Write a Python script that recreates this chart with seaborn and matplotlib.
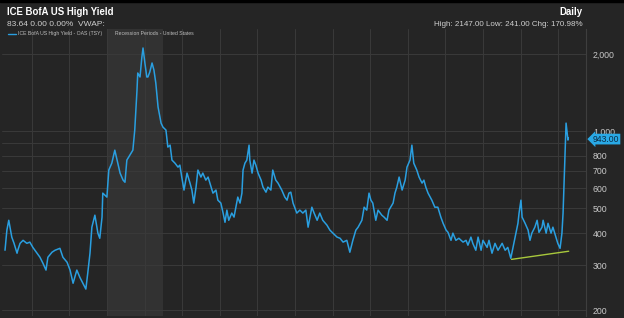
import numpy as np
import pandas as pd
import matplotlib
matplotlib.use("Agg")
import matplotlib.pyplot as plt
import seaborn as sns

# ---- data (decimal year, OAS in bp) ----
years = [2005.29, 2005.34, 2005.39, 2005.47, 2005.53, 2005.61, 2005.63, 2005.69, 2005.77, 2005.87,
         2005.95, 2006.03, 2006.14, 2006.22, 2006.30, 2006.38, 2006.43, 2006.54, 2006.62, 2006.75,
         2006.83, 2006.94, 2007.02, 2007.10, 2007.20, 2007.28, 2007.36, 2007.44, 2007.49, 2007.55,
         2007.60, 2007.68, 2007.76, 2007.81, 2007.87, 2007.89, 2008.00, 2008.05, 2008.13, 2008.21,
         2008.29, 2008.35, 2008.43, 2008.48, 2008.53, 2008.61, 2008.69, 2008.74, 2008.80, 2008.82,
         2008.88, 2008.93, 2008.96, 2009.01, 2009.06, 2009.09, 2009.14, 2009.20, 2009.25, 2009.30,
         2009.36, 2009.44, 2009.49, 2009.57, 2009.62, 2009.68, 2009.73, 2009.81, 2009.89, 2009.94,
         2009.99, 2010.05, 2010.13, 2010.21, 2010.26, 2010.31, 2010.37, 2010.42, 2010.50, 2010.55,
         2010.63, 2010.69, 2010.77, 2010.82, 2010.90, 2010.95, 2011.03, 2011.09, 2011.14, 2011.19,
         2011.24, 2011.32, 2011.38, 2011.43, 2011.48, 2011.54, 2011.59, 2011.62, 2011.67, 2011.72,
         2011.78, 2011.80, 2011.86, 2011.91, 2011.96, 2012.02, 2012.10, 2012.15, 2012.23, 2012.28,
         2012.36, 2012.41, 2012.49, 2012.55, 2012.65, 2012.73, 2012.79, 2012.84, 2012.89, 2012.95,
         2013.05, 2013.13, 2013.21, 2013.29, 2013.35, 2013.45, 2013.51, 2013.59, 2013.66, 2013.74,
         2013.85, 2013.93, 2014.01, 2014.12, 2014.20, 2014.28, 2014.38, 2014.46, 2014.54, 2014.62,
         2014.68, 2014.78, 2014.84, 2014.91, 2014.97, 2015.02, 2015.07, 2015.15, 2015.21, 2015.31,
         2015.37, 2015.45, 2015.50, 2015.61, 2015.66, 2015.71, 2015.77, 2015.85, 2015.93, 2015.98,
         2016.06, 2016.11, 2016.16, 2016.24, 2016.30, 2016.38, 2016.43, 2016.48, 2016.54, 2016.64,
         2016.72, 2016.80, 2016.88, 2016.94, 2017.02, 2017.07, 2017.15, 2017.20, 2017.28, 2017.36,
         2017.47, 2017.55, 2017.60, 2017.68, 2017.73, 2017.81, 2017.87, 2017.95, 2018.00, 2018.11,
         2018.16, 2018.24, 2018.32, 2018.40, 2018.51, 2018.59, 2018.66, 2018.74, 2018.80, 2018.88,
         2018.93, 2018.96, 2019.01, 2019.04, 2019.12, 2019.20, 2019.25, 2019.30, 2019.38, 2019.44,
         2019.49, 2019.57, 2019.60, 2019.68, 2019.73, 2019.81, 2019.86, 2019.94, 2019.99, 2020.05,
         2020.10, 2020.13, 2020.15, 2020.18, 2020.21, 2020.26, 2020.27]
oas = [343, 411, 449, 386, 365, 334, 343, 365, 375, 365,
       369, 352, 334, 322, 305, 287, 322, 337, 343, 349,
       322, 308, 287, 255, 287, 269, 255, 242, 279, 334,
       422, 470, 400, 382, 462, 573, 553, 705, 750, 843,
       750, 686, 644, 632, 771, 806, 843, 1010, 1447, 1686,
       1627, 1947, 2111, 1845, 1627, 1627, 1701, 1845, 1732, 1541,
       1242, 1075, 1037, 1010, 867, 882, 771, 750, 724, 737,
       662, 589, 686, 627, 589, 524, 605, 705, 662, 686,
       644, 662, 605, 573, 589, 538, 524, 479, 441, 492,
       449, 479, 462, 505, 553, 524, 573, 705, 750, 771,
       882, 771, 686, 771, 737, 686, 644, 605, 578, 605,
       589, 705, 644, 627, 589, 553, 538, 573, 578, 524,
       479, 492, 479, 492, 422, 505, 479, 449, 479, 449,
       430, 411, 400, 386, 382, 369, 375, 337, 375, 411,
       422, 449, 505, 492, 573, 538, 524, 449, 492, 470,
       462, 449, 492, 524, 573, 605, 662, 589, 644, 724,
       771, 882, 750, 705, 662, 627, 644, 605, 573, 538,
       505, 505, 462, 437, 411, 403, 375, 400, 375, 382,
       369, 375, 359, 386, 365, 343, 386, 343, 375, 352,
       375, 334, 365, 343, 365, 343, 352, 319, 352, 400,
       437, 479, 538, 462, 437, 411, 375, 400, 422, 449,
       403, 422, 449, 400, 437, 400, 422, 386, 365, 349,
       400, 479, 589, 792, 1075, 923, 943]
trend_years = [2018.76, 2020.28]
trend_vals = [316, 340]
recession = (2007.99, 2009.49)
ytick_vals = [2000, 1000, 900, 800, 700, 600, 500, 400, 300, 200]
ytick_labels = ["2,000", "1,000", "", "800", "700", "600", "500", "400", "300", "200"]
grid_years = list(range(2006, 2021))
last_value = 943.00

df = pd.DataFrame({"year": years, "oas": oas})

BG = "#252525"
GRID = "#3a3a3a"
LINE = "#2a9fe0"

sns.set_theme(style="dark")
plt.rcParams['font.family'] = ['Liberation Sans', 'DejaVu Sans']

fig = plt.figure(figsize=(6.24, 3.18), dpi=100, facecolor=BG)
ax = fig.add_axes([2 / 624, 2 / 318, 584 / 624, 287 / 318])
ax.set_facecolor(BG)

ax.set_yscale("log")
ax.set_xlim(2005.21, 2020.74)
ax.set_ylim(190, 2504)

ax.axvspan(recession[0], recession[1], color="#323232", zorder=0, lw=0)
for gy in grid_years:
    ax.axvline(gy, color=GRID, lw=0.7, zorder=1)
for tv in ytick_vals:
    ax.axhline(tv, color=GRID, lw=0.7, zorder=1)

sns.lineplot(data=df, x="year", y="oas", ax=ax, color=LINE, lw=1.1, zorder=3)
ax.plot(trend_years, trend_vals, color="#a8c83c", lw=1.0, zorder=4)

ax.set_yticks(ytick_vals)
ax.set_yticklabels(ytick_labels)
ax.yaxis.set_minor_locator(matplotlib.ticker.NullLocator())
ax.yaxis.tick_right()
ax.tick_params(axis="y", length=0, pad=5, labelsize=6.3, labelcolor="#c8c8c8")
ax.set_xticks([])
ax.set_xlabel("")
ax.set_ylabel("")
for s in ax.spines.values():
    s.set_visible(False)
ax.spines["right"].set_visible(True)
ax.spines["right"].set_color("#3e3e3e")
ax.spines["right"].set_linewidth(0.8)

# last-value tag
ax.annotate(f"{last_value:.2f}", xy=(1.0, last_value), xycoords=("axes fraction", "data"),
            xytext=(5, -1.0), textcoords="offset points", ha="left", va="center",
            fontsize=6.2, color="#0c2c44",
            bbox=dict(boxstyle="larrow,pad=0.1", fc="#29a9e6", ec="none"), zorder=10,
            annotation_clip=False)

# header
fig.add_artist(plt.Rectangle((0, 1 - 2 / 318), 1, 2 / 318, transform=fig.transFigure, color="#000000"))
fig.text(7 / 624, 1 - 12 / 318, "ICE BofA US High Yield", fontsize=6.9, fontweight="bold",
         color="white", ha="left", va="center")
fig.text(7 / 624, 1 - 24.5 / 318, "83.64 0.00 0.00%  VWAP:", fontsize=6.0, color="#cfcfcf",
         ha="left", va="center")
fig.text(583 / 624, 1 - 12 / 318, "Daily", fontsize=6.9, fontweight="bold", color="white",
         ha="right", va="center")
fig.text(583 / 624, 1 - 24 / 318, "High: 2147.00 Low: 241.00 Chg: 170.98%", fontsize=5.8,
         color="#cfcfcf", ha="right", va="center")

# legend row
fig.add_artist(matplotlib.lines.Line2D([8 / 624, 16 / 624], [1 - 33.5 / 318] * 2,
                                       transform=fig.transFigure, color=LINE, lw=1))
fig.text(18 / 624, 1 - 33.5 / 318, "ICE BofA US High Yield - OAS (TSY)", fontsize=3.7,
         color="#bdbdbd", ha="left", va="center")
fig.text(115 / 624, 1 - 33.5 / 318, "Recession Periods - United States", fontsize=3.7,
         color="#bdbdbd", ha="left", va="center")

fig.savefig("out.png", dpi=100, facecolor=BG)
